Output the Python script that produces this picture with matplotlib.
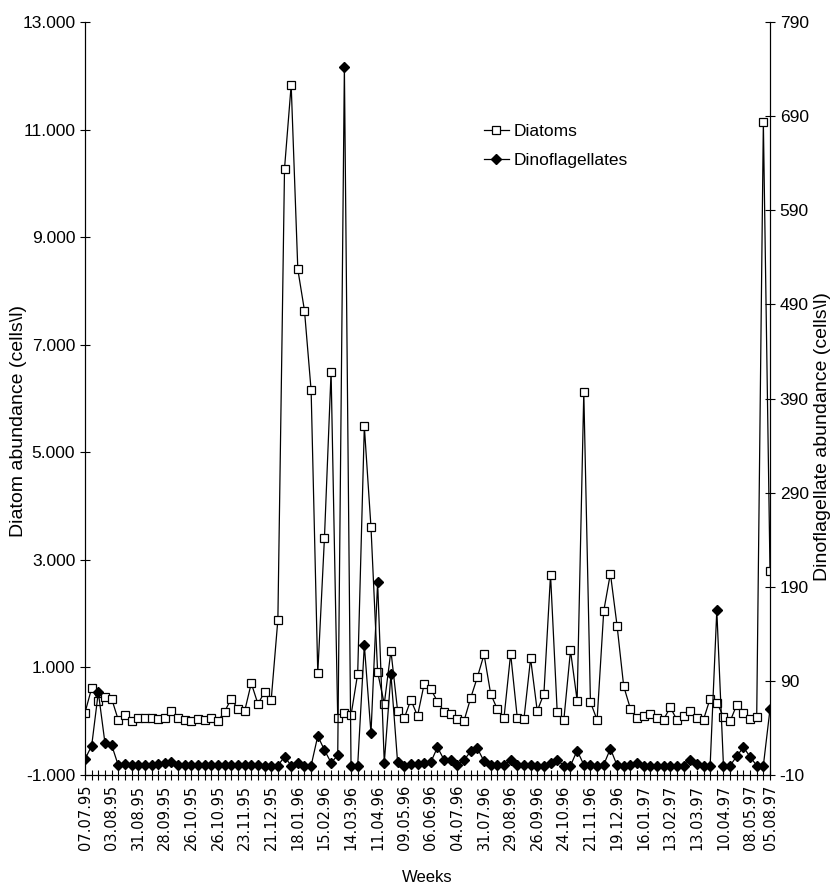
import numpy as np
import matplotlib.pyplot as plt

# diatoms (cells/l), weekly samples
diatoms = [161, 615, 385, 459, 422, 25, 112, 6, 56, 56,
           56, 43, 56, 199, 56, 18, 6, 43, 18, 56,
           6, 180, 422, 223, 186, 708, 323, 540, 403, 1888,
           10277, 11830, 8400, 7636, 6152, 894, 3400, 6499, 56, 149,
           112, 882, 5481, 3610, 913, 323, 1310, 199, 56, 397,
           99, 695, 596, 366, 180, 130, 37, 12, 435, 820,
           1242, 509, 223, 62, 1254, 62, 43, 1167, 192, 509,
           2722, 180, 25, 1316, 385, 6115, 354, 25, 2050, 2747,
           1780, 652, 236, 68, 105, 143, 68, 31, 261, 25,
           99, 192, 68, 31, 422, 348, 87, 0, 304, 161,
           49, 80, 11135, 2800]

# dinoflagellates (cells/l)
dinos = [7, 21, 78, 24, 22, 0.3, 1.7, 1, 0.3, 0.3,
         1, 1.7, 2.4, 3.5, 0.3, 0.3, 0.3, 0.3, 0.3, 0.3,
         0.3, 0.3, 0.3, 0.3, 0.3, 0.3, 0.3, 0, 0, 0,
         9.5, 0, 2.4, 0, 0, 31.5, 16.6, 3.1, 10.9, 742,
         0, 0, 128, 34.4, 195, 3, 97, 3.8, 0, 1.7,
         1.7, 2.4, 3.8, 19.5, 6, 6, 0.6, 6, 15.2, 18.4,
         4.6, 1, 0.3, 0.3, 6, 0.3, 0.3, 1, 0, 0,
         3, 6, 0, 0, 16, 1, 0.3, 0, 1, 18,
         0.3, 0, 0.3, 3, 0, 0, 0, 0, 0, 0,
         0, 6, 1.7, 0, 0, 165, 0, 0, 10, 19.5,
         9.5, 0, 0, 60]

week_labels = ['07.07.95', '03.08.95', '31.08.95', '28.09.95', '26.10.95',
               '26.10.95', '23.11.95', '21.12.95', '18.01.96', '15.02.96',
               '14.03.96', '11.04.96', '09.05.96', '06.06.96', '04.07.96',
               '31.07.96', '29.08.96', '26.09.96', '24.10.96', '21.11.96',
               '19.12.96', '16.01.97', '13.02.97', '13.03.97', '10.04.97',
               '08.05.97', '05.08.97']

left_ticks = [-1000, 1000, 3000, 5000, 7000, 9000, 11000, 13000]
left_labels = ['-1.000', '1.000', '3.000', '5.000', '7.000', '9.000', '11.000', '13.000']
right_ticks = [-10, 90, 190, 290, 390, 490, 590, 690, 790]

n = len(diatoms)
x = np.arange(n)

fig = plt.figure(figsize=(8.31, 8.93), dpi=100)
ax = fig.add_axes([0.1023, 0.1321, 0.8243, 0.8432])
ax2 = ax.twinx()

l1, = ax.plot(x, diatoms, color='black', lw=0.9, marker='s', ms=6.3,
              mfc='white', mec='black', mew=0.9, label='Diatoms')
l2, = ax2.plot(x, dinos, color='black', lw=0.9, marker='D', ms=5,
               mfc='black', mec='black', label='Dinoflagellates')

ax.set_xlim(0, n - 1)
ax.set_ylim(-1000, 13000)
ax2.set_ylim(-10, 790)

ax.set_yticks(left_ticks)
ax.set_yticklabels(left_labels, fontsize=12.5, family='Liberation Sans')
ax2.set_yticks(right_ticks)
ax2.set_yticklabels([str(t) for t in right_ticks], fontsize=12.5, family='Liberation Sans')

# labels every 4 weeks, tick on every week
lab_pos = [min(4 * k, n - 1) for k in range(len(week_labels))]
ax.set_xticks(lab_pos)
ax.set_xticklabels(week_labels, rotation=90, fontsize=10.5)
ax.set_xticks(x, minor=True)

for a in (ax, ax2):
    a.spines['top'].set_visible(False)
    a.tick_params(which='both', direction='inout', length=7, width=0.8)

narrow = ['Liberation Sans Narrow', 'Liberation Sans']
ax.set_xlabel('Weeks', fontsize=12, family='Liberation Sans', labelpad=14)
ax.set_ylabel('Diatom abundance (cells\\l)', fontsize=14, family=narrow)
ax2.set_ylabel('Dinoflagellate abundance (cells\\l)', fontsize=14, family=narrow)
ax.yaxis.set_label_coords(-0.085, 0.47)
ax2.yaxis.set_label_coords(1.064, 0.45)

ax.legend([l1, l2], ['Diatoms', 'Dinoflagellates'], loc='upper left',
          bbox_to_anchor=(0.56, 0.885), frameon=False,
          prop={'family': 'Liberation Sans', 'size': 12.5},
          handlelength=1.4, handletextpad=0.3, labelspacing=0.75)

fig.savefig('out.png', dpi=100)
